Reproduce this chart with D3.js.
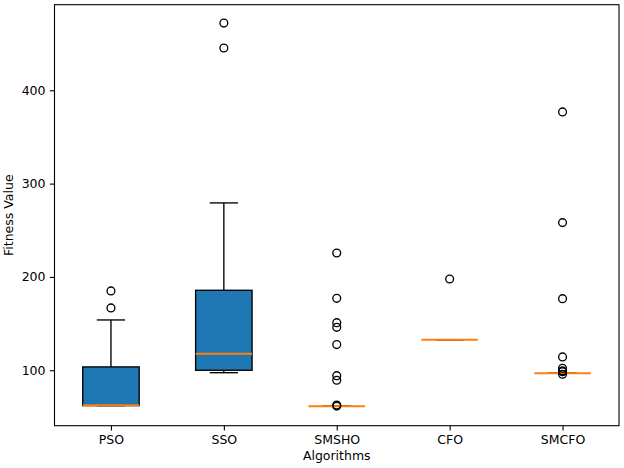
<!DOCTYPE html>
<html>
<head>
<meta charset="utf-8">
<script src="https://cdn.jsdelivr.net/npm/d3@7"></script>
<style>
  body { margin: 0; background: #fff; }
  text { font-family: "DejaVu Sans", sans-serif; fill: #000; }
</style>
</head>
<body>
<svg id="chart" width="624" height="468"></svg>
<script>
// box plot summaries
var algorithms = ["PSO", "SSO", "SMSHO", "CFO", "SMCFO"];
var q1 = [62.1, 100, 61.4, 132.8, 96.8];
var medians = [62.5, 117.8, 61.4, 132.8, 96.8];
var q3 = [103.6, 185.7, 61.4, 132.8, 96.8];
var whiskLo = [62.1, 97.4, 61.4, 132.8, 96.8];
var whiskHi = [153.9, 279.3, 61.4, 132.8, 96.8];
var fliers = [
  [185, 166.8],
  [445.3, 472],
  [225.7, 177.1, 151, 146, 127.5, 94.2, 89.3, 62.8, 61.6],
  [197.8],
  [376.8, 258.2, 176.7, 114.3, 102.1, 99.4, 98.5, 95.7]
];
var yTicks = [100, 200, 300, 400];

// plot area ("top" is reserved on window, so prefixed names)
var axL = 54.5, axR = 619, axT = 4.7, axB = 425.7;
var fs = "12.5px";
var svg = d3.select("#chart");

var x = d3.scaleLinear().domain([0.5, 5.5]).range([axL, axR]);
var y = d3.scaleLinear().domain([40.6, 491.7]).range([axB, axT]);
var bw = x(1.25) - x(1); // half box width in px

// axes
svg.append("g")
  .attr("transform", "translate(0," + axB + ")")
  .call(d3.axisBottom(x).tickValues([1, 2, 3, 4, 5])
    .tickFormat(function(d) { return algorithms[d - 1]; })
    .tickSize(4.7).tickPadding(4.5))
  .call(function(g) { g.select(".domain").remove(); })
  .selectAll("text").style("font-size", fs).style("font-family", "DejaVu Sans");

svg.append("g")
  .attr("transform", "translate(" + axL + ",0)")
  .call(d3.axisLeft(y).tickValues(yTicks).tickSize(4.7).tickPadding(4.3))
  .call(function(g) { g.select(".domain").remove(); })
  .selectAll("text").style("font-size", fs).style("font-family", "DejaVu Sans");

svg.selectAll(".tick line").attr("stroke", "#000").attr("stroke-width", 1.1);

var data = algorithms.map(function(a, i) {
  return {name: a, pos: i + 1, q1: q1[i], med: medians[i], q3: q3[i],
          lo: whiskLo[i], hi: whiskHi[i], fl: fliers[i]};
});

var g = svg.selectAll(".box").data(data).enter().append("g");

// whiskers
g.append("line")
  .attr("x1", function(d) { return x(d.pos); })
  .attr("x2", function(d) { return x(d.pos); })
  .attr("y1", function(d) { return y(d.q3); })
  .attr("y2", function(d) { return y(d.hi); })
  .attr("stroke", "#000").attr("stroke-width", 1.35);
g.append("line")
  .attr("x1", function(d) { return x(d.pos); })
  .attr("x2", function(d) { return x(d.pos); })
  .attr("y1", function(d) { return y(d.q1); })
  .attr("y2", function(d) { return y(d.lo); })
  .attr("stroke", "#000").attr("stroke-width", 1.35);
// caps
["hi", "lo"].forEach(function(k) {
  g.append("line")
    .attr("x1", function(d) { return x(d.pos) - bw / 2; })
    .attr("x2", function(d) { return x(d.pos) + bw / 2; })
    .attr("y1", function(d) { return y(d[k]); })
    .attr("y2", function(d) { return y(d[k]); })
    .attr("stroke", "#000").attr("stroke-width", 1.35);
});

// boxes
g.append("rect")
  .attr("x", function(d) { return x(d.pos) - bw; })
  .attr("width", 2 * bw)
  .attr("y", function(d) { return y(d.q3); })
  .attr("height", function(d) { return y(d.q1) - y(d.q3); })
  .attr("fill", "#1f77b4")
  .attr("stroke", "#000").attr("stroke-width", 1.35);

// medians
g.append("line")
  .attr("x1", function(d) { return x(d.pos) - bw; })
  .attr("x2", function(d) { return x(d.pos) + bw; })
  .attr("y1", function(d) { return y(d.med); })
  .attr("y2", function(d) { return y(d.med); })
  .attr("stroke", "#ff7f0e").attr("stroke-width", 2);

// fliers
g.selectAll("circle")
  .data(function(d) { return d.fl.map(function(v) { return {pos: d.pos, v: v}; }); })
  .enter().append("circle")
  .attr("cx", function(d) { return x(d.pos); })
  .attr("cy", function(d) { return y(d.v); })
  .attr("r", 3.9)
  .attr("fill", "none")
  .attr("stroke", "#000").attr("stroke-width", 1.35);

// frame
svg.append("rect")
  .attr("x", axL).attr("y", axT)
  .attr("width", axR - axL).attr("height", axB - axT)
  .attr("fill", "none").attr("stroke", "#000").attr("stroke-width", 1.1);

// axis labels
svg.append("text")
  .attr("x", (axL + axR) / 2).attr("y", 460)
  .attr("text-anchor", "middle").style("font-size", fs)
  .text("Algorithms");
svg.append("text")
  .attr("transform", "translate(13," + ((axT + axB) / 2) + ") rotate(-90)")
  .attr("text-anchor", "middle").style("font-size", fs)
  .text("Fitness Value");
</script>
</body>
</html>
